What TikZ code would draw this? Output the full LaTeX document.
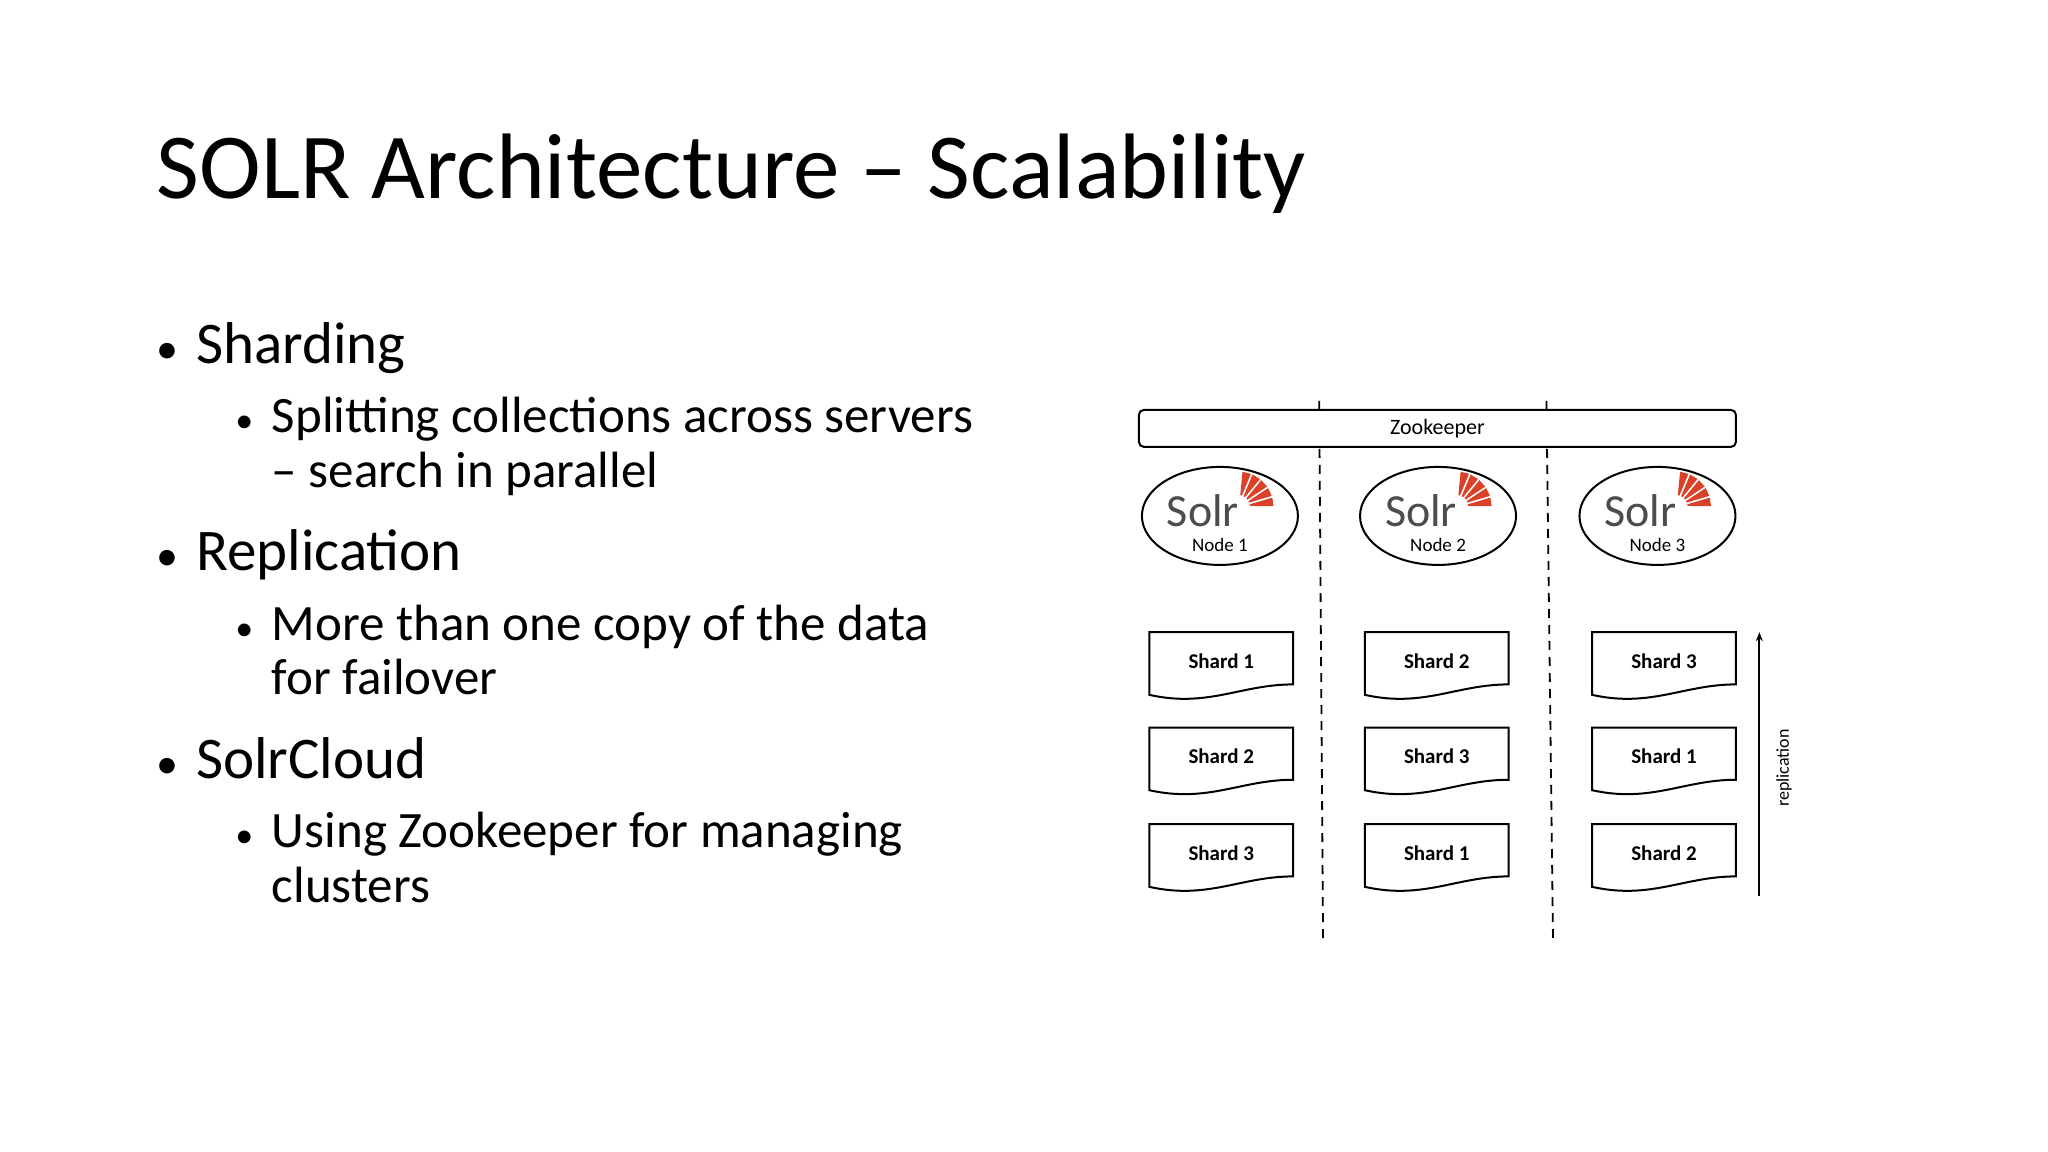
\documentclass[tikz,border=0pt]{standalone}
\usepackage{fontspec}
\setmainfont{Carlito}
\usetikzlibrary{shapes.geometric,arrows.meta}
\definecolor{solrred}{RGB}{217,65,40}
\begin{document}
\begin{tikzpicture}[x=1.306pt,y=-1.306pt,
  bt/.style={anchor=base west,inner sep=0,font=\fontsize{59}{70}\selectfont},
  st/.style={anchor=base west,inner sep=0,font=\fontsize{51}{60}\selectfont},
  bdot/.style={anchor=base west,inner sep=0,font=\fontsize{44}{50}\selectfont},
  sdot/.style={anchor=base west,inner sep=0,font=\fontsize{36}{40}\selectfont},
  shardtxt/.style={font=\bfseries\fontsize{21}{24}\selectfont},
  sol/.style={draw,line width=2pt,ellipse,minimum width=156pt,minimum height=98pt},
  dsh/.style={line width=1.8pt,dash pattern=on 9pt off 7pt}]
\useasboundingbox (0,0) rectangle (1568,882);
\fill[white] (0,0) rectangle (1568,882);
\node[anchor=base west,font=\fontsize{93}{110}\selectfont,inner sep=0] (title) at (120,152) {SOLR Architecture -- Scalability};
% bullets
\node[bdot] (d1) at (120,278) {\textbullet};
\node[bt] (b1) at (150,278) {Sharding};
\node[sdot] (d11) at (180,331) {\textbullet};
\node[st] (s1) at (208,331) {Splitting collections across servers};
\node[st] (s1b) at (208,373) {-- search in parallel};
\node[bdot] (d2) at (120,437) {\textbullet};
\node[bt] (b2) at (150,437) {Replication};
\node[sdot] (d21) at (180,490) {\textbullet};
\node[st] (s2) at (208,490) {More than one copy of the data};
\node[st] (s2b) at (208,532) {for failover};
\node[bdot] (d3) at (120,596) {\textbullet};
\node[bt] (b3) at (150,596) {SolrCloud};
\node[sdot] (d31) at (180,649) {\textbullet};
\node[st] (s3) at (208,649) {Using Zookeeper for managing};
\node[st] (s3b) at (208,691) {clusters};
% dashed lines
\coordinate (d1t) at (1010,307); \coordinate (d1b) at (1013,722);
\coordinate (d2t) at (1184,307); \coordinate (d2b) at (1189,718);
\draw[dsh] (d1t) -- (d1b);
\draw[dsh] (d2t) -- (d2b);
% zookeeper
\node[draw,line width=2pt,rounded corners=5pt,fill=white,minimum width=597pt,minimum height=37pt,font=\fontsize{22}{24}\selectfont] (zk) at (1100.5,328) {Zookeeper};
% solr nodes
\foreach \i/\cx in {1/934,2/1101,3/1269}{
  \node[sol,fill=white] (n\i) at (\cx,395) {};
  \node[font=\fontsize{46}{50}\selectfont,text=black!70,inner sep=0,text depth=0pt,anchor=base] (sl\i) at (\cx-13,403) {Solr};
  \node[font=\fontsize{19}{22}\selectfont,inner sep=0,text height=0.68em,anchor=base] (nl\i) at (\cx,422) {Node \i};
  \begin{scope}[shift={(\cx+14,388)}]
  \foreach \a in {-8,-25,-42,-59,-76}{
    \fill[solrred] (\a-4:9) -- (\a-7:27) -- (\a+7:27) -- (\a+4:9) -- cycle;
  }
  \end{scope}
}
% shards
\foreach \c/\x/\la/\lb/\lc in {1/880/1/2/3,2/1045/2/3/1,3/1219/3/1/2}{
  \foreach \r/\t/\l in {1/484/\la,2/557/\lb,3/631/\lc}{
    \draw[line width=2pt,fill=white] (\x,\t) -- (\x+110,\t) -- (\x+110,\t+40)
      .. controls (\x+70,\t+40) and (\x+45,\t+58) .. (\x,\t+48) -- cycle;
    \node[shardtxt] (sh\c\r) at (\x+55,\t+22) {Shard \l};
  }
}
% replication arrow
\coordinate (ra) at (1347,686); \coordinate (rb) at (1347,484);
\draw[line width=1.8pt,-{Stealth[length=9pt,width=7pt]}] (ra) -- (rb);
\node[rotate=90,font=\fontsize{18}{20}\selectfont] (rep) at (1366,588) {replication};
\end{tikzpicture}
\end{document}
